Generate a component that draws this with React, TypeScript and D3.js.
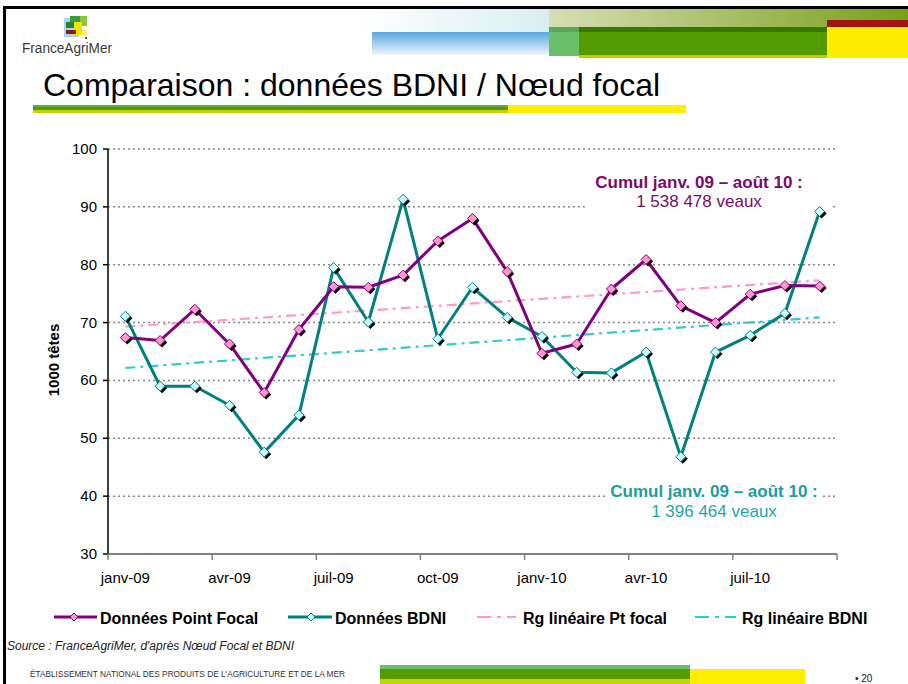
import React from "react";
import * as d3 from "d3";

const months = [
  "janv-09", "févr-09", "mars-09", "avr-09", "mai-09", "juin-09", "juil-09",
  "août-09", "sept-09", "oct-09", "nov-09", "déc-09", "janv-10", "févr-10",
  "mars-10", "avr-10", "mai-10", "juin-10", "juil-10", "août-10", "sept-10",
];
const pointFocal = [67.4, 66.9, 72.3, 66.3, 57.9, 68.8, 76.2, 76.1, 78.2, 84.1, 88.0, 78.8, 64.7, 66.3, 75.8, 80.9, 72.9, 70.0, 74.9, 76.4, 76.3];
const bdni = [71.1, 59.0, 59.0, 55.7, 47.6, 54.0, 79.5, 70.1, 91.3, 67.2, 76.1, 70.9, 67.6, 61.4, 61.3, 64.9, 46.8, 64.9, 67.8, 71.6, 89.2];
const yTicks = [30, 40, 50, 60, 70, 80, 90, 100];
const seriesNames = ["Données Point Focal", "Données BDNI", "Rg linéaire Pt focal", "Rg linéaire BDNI"];

const FONT = "'Liberation Sans', Arial, sans-serif";
const PURPLE = "#800080";
const TEAL = "#008080";
const PINK = "#ff99cc";
const CYAN_T = "#33cccc";

function linreg(vals: number[]) {
  const xs = d3.range(vals.length);
  const mx = d3.mean(xs) as number;
  const my = d3.mean(vals) as number;
  let sxy = 0, sxx = 0;
  xs.forEach((x, i) => { sxy += (x - mx) * (vals[i] - my); sxx += (x - mx) * (x - mx); });
  const b = sxy / sxx;
  const a = my - b * mx;
  return xs.map((x) => a + b * x);
}

function diamond(cx: number, cy: number, r: number) {
  return `M${cx},${cy - r}L${cx + r},${cy}L${cx},${cy + r}L${cx - r},${cy}Z`;
}

export default function App() {
  const x = d3.scaleBand<string>().domain(months).range([108, 837]).paddingInner(0).paddingOuter(0);
  const y = d3.scaleLinear().domain([30, 100]).range([554, 149]);
  const cx = (m: string) => (x(m) as number) + x.bandwidth() / 2;
  const line = d3.line<number>().x((_, i) => cx(months[i])).y((v) => y(v));
  const trendPF = linreg(pointFocal);
  const trendB = linreg(bdni);
  const trendLine = (t: number[]) =>
    `M${cx(months[0])},${y(t[0])}L${cx(months[months.length - 1])},${y(t[t.length - 1])}`;

  const markers = (vals: number[], fill: string, stroke: string) => (
    <g>
      {vals.map((v, i) => (
        <path key={"s" + i} d={diamond(cx(months[i]) + 2, y(v) + 2, 5)} fill="#000" />
      ))}
      {vals.map((v, i) => (
        <path key={"m" + i} d={diamond(cx(months[i]), y(v), 5)} fill={fill} stroke={stroke} strokeWidth={1} />
      ))}
    </g>
  );

  const boundaries = d3.range(0, months.length + 1, 3);

  return (
    <svg width={908} height={684} style={{ position: "fixed", left: 0, top: 0, background: "#fff" }} fontFamily={FONT}>
      <defs>
        <linearGradient id="paleFade" x1="0" x2="1" y1="0" y2="0">
          <stop offset="0" stopColor="#ffffff" />
          <stop offset="1" stopColor="#d9eef1" />
        </linearGradient>
        <linearGradient id="blueBar" x1="0" x2="0" y1="0" y2="1">
          <stop offset="0" stopColor="#5aa6de" />
          <stop offset="1" stopColor="#eef7fb" />
        </linearGradient>
        <linearGradient id="olive" x1="0" x2="1" y1="0" y2="0">
          <stop offset="0" stopColor="#d7deb6" />
          <stop offset="1" stopColor="#78a018" />
        </linearGradient>
      </defs>
      <rect x={0} y={0} width={908} height={684} fill="#fff" />

      {/* slide frame */}
      <rect x={3} y={6} width={905} height={3} fill="#000" />
      <rect x={3} y={6} width={3} height={678} fill="#000" />

      {/* header graphics */}
      <rect x={360} y={9} width={189} height={23} fill="url(#paleFade)" />
      <rect x={372} y={32} width={177} height={23} fill="url(#blueBar)" />
      <rect x={549} y={9} width={359} height={18} fill="url(#olive)" />
      <rect x={827} y={20} width={81} height={7} fill="#a31515" />
      <rect x={827} y={27} width={81} height={31} fill="#ffed00" />
      <rect x={549} y={27} width={30} height={29} fill="#6cbf6c" />
      <rect x={549} y={27} width={30} height={5} fill="#58a858" />
      <rect x={579} y={55} width={248} height={3} fill="#c8c800" />
      <rect x={579} y={27} width={248} height={28} fill="#529c00" />
      <rect x={579} y={27} width={248} height={5} fill="#367800" />

      {/* logo */}
      <rect x={64} y={18} width={15} height={19} fill="#a8d8ef" />
      <rect x={70} y={16} width={14} height={6} fill="#3c9a3c" />
      <rect x={80} y={16} width={7} height={10} fill="#8cc63f" />
      <rect x={66} y={22} width={8} height={6} fill="#2e7d32" />
      <rect x={74} y={22} width={8} height={13} fill="#f2e600" />
      <rect x={66} y={30} width={10} height={4} fill="#8b1b1b" />
      <rect x={82} y={30} width={5} height={5} fill="#f8f070" />
      <rect x={85} y={37} width={2} height={2} fill="#2a6a6a" />
      <text x={22} y={53} fontSize={14} fill="#3a3a3a" textLength={90} lengthAdjust="spacingAndGlyphs">FranceAgriMer</text>

      {/* title */}
      <text x={43} y={96} fontSize={32} fill="#000">Comparaison : données BDNI / Nœud focal</text>
      <rect x={33} y={105} width={475} height={2} fill="#60ad3c" />
      <rect x={33} y={107} width={475} height={3} fill="#4f9a00" />
      <rect x={33} y={110} width={475} height={3} fill="#c9d200" />
      <rect x={508} y={105} width={178} height={8} fill="#ffee00" />

      {/* gridlines */}
      {yTicks.filter((t) => t > 30).map((t) => (
        <line key={t} x1={108} x2={836} y1={y(t)} y2={y(t)} stroke="#888" strokeWidth={1.5} strokeDasharray="2,3" />
      ))}

      {/* annotation boxes */}
      <rect x={585} y={168} width={247} height={46} fill="#fff" />
      <text x={699} y={188} fontSize={17} fontWeight="bold" fill="#7a0a6e" textAnchor="middle">Cumul janv. 09 – août 10 :</text>
      <text x={699} y={207} fontSize={17} fill="#7a0a6e" textAnchor="middle">1 538 478 veaux</text>
      <rect x={605} y={480} width={218} height={42} fill="#fff" />
      <text x={714} y={497} fontSize={17} fontWeight="bold" fill="#1a9e9e" textAnchor="middle">Cumul janv. 09 – août 10 :</text>
      <text x={714} y={517} fontSize={17} fill="#1fa7a7" textAnchor="middle">1 396 464 veaux</text>

      {/* axes */}
      <line x1={108} x2={108} y1={149} y2={554} stroke="#000" strokeWidth={1.5} />
      {yTicks.map((t) => (
        <g key={t}>
          <line x1={103} x2={108} y1={y(t)} y2={y(t)} stroke="#000" strokeWidth={1.5} />
          <text x={97} y={y(t) + 5} fontSize={15} textAnchor="end" fill="#000">{t}</text>
        </g>
      ))}
      <line x1={108} x2={837} y1={554} y2={554} stroke="#808080" strokeWidth={2} />
      {boundaries.map((b) => {
        const bx = b < months.length ? (x(months[b]) as number) : 837;
        return <line key={b} x1={bx} x2={bx} y1={554} y2={560} stroke="#808080" strokeWidth={1.5} />;
      })}
      {months.map((m, i) => i % 3 === 0 ? (
        <text key={m} x={cx(m)} y={583} fontSize={15} textAnchor="middle" fill="#000">{m}</text>
      ) : null)}
      <text transform="translate(59,360) rotate(-90)" fontSize={15} fontWeight="bold" textAnchor="middle" fill="#000">1000 têtes</text>

      {/* trend lines */}
      <path d={trendLine(trendPF)} stroke={PINK} strokeWidth={2.2} strokeDasharray="10,5,3,5" fill="none" />
      <path d={trendLine(trendB)} stroke={CYAN_T} strokeWidth={2.2} strokeDasharray="10,5,3,5" fill="none" />

      {/* data lines */}
      <path d={line(bdni) as string} stroke={TEAL} strokeWidth={3} fill="none" strokeLinejoin="round" />
      <path d={line(pointFocal) as string} stroke={PURPLE} strokeWidth={3} fill="none" strokeLinejoin="round" />
      {markers(bdni, "#ccffff", TEAL)}
      {markers(pointFocal, PINK, PURPLE)}

      {/* legend */}
      <g>
        <line x1={54} x2={97} y1={617} y2={617} stroke={PURPLE} strokeWidth={3} />
        <path d={diamond(74, 617, 4)} fill={PINK} stroke={PURPLE} strokeWidth={1} />
        <text x={100} y={624} fontSize={16} fontWeight="bold" fill="#000">{seriesNames[0]}</text>
        <line x1={288} x2={332} y1={617} y2={617} stroke={TEAL} strokeWidth={3} />
        <path d={diamond(311, 617, 4)} fill="#ccffff" stroke={TEAL} strokeWidth={1} />
        <text x={335} y={624} fontSize={16} fontWeight="bold" fill="#000">{seriesNames[1]}</text>
        <line x1={477} x2={516} y1={617} y2={617} stroke={PINK} strokeWidth={2.2} strokeDasharray="14,6,4,6,4,0" />
        <text x={523} y={624} fontSize={16} fontWeight="bold" fill="#000">{seriesNames[2]}</text>
        <line x1={695} x2={736} y1={617} y2={617} stroke={CYAN_T} strokeWidth={2.2} strokeDasharray="14,6,4,6,4,0" />
        <text x={742} y={624} fontSize={16} fontWeight="bold" fill="#000">{seriesNames[3]}</text>
      </g>

      {/* source */}
      <text x={7} y={650} fontSize={12} fontStyle="italic" fill="#222">Source : FranceAgriMer, d'après Nœud Focal et BDNI</text>

      {/* footer */}
      <text x={30} y={677} fontSize={9} fill="#333" textLength={315} lengthAdjust="spacingAndGlyphs">ÉTABLISSEMENT NATIONAL DES PRODUITS DE L'AGRICULTURE ET DE LA MER</text>
      <rect x={380} y={665} width={310} height={4} fill="#6cbf6c" />
      <rect x={380} y={669} width={310} height={10} fill="#529c00" />
      <rect x={380} y={679} width={310} height={5} fill="#c8d400" />
      <rect x={690} y={669} width={115} height={15} fill="#ffee00" />
      <text x={855} y={682} fontSize={10} fill="#222">• 20</text>
    </svg>
  );
}
